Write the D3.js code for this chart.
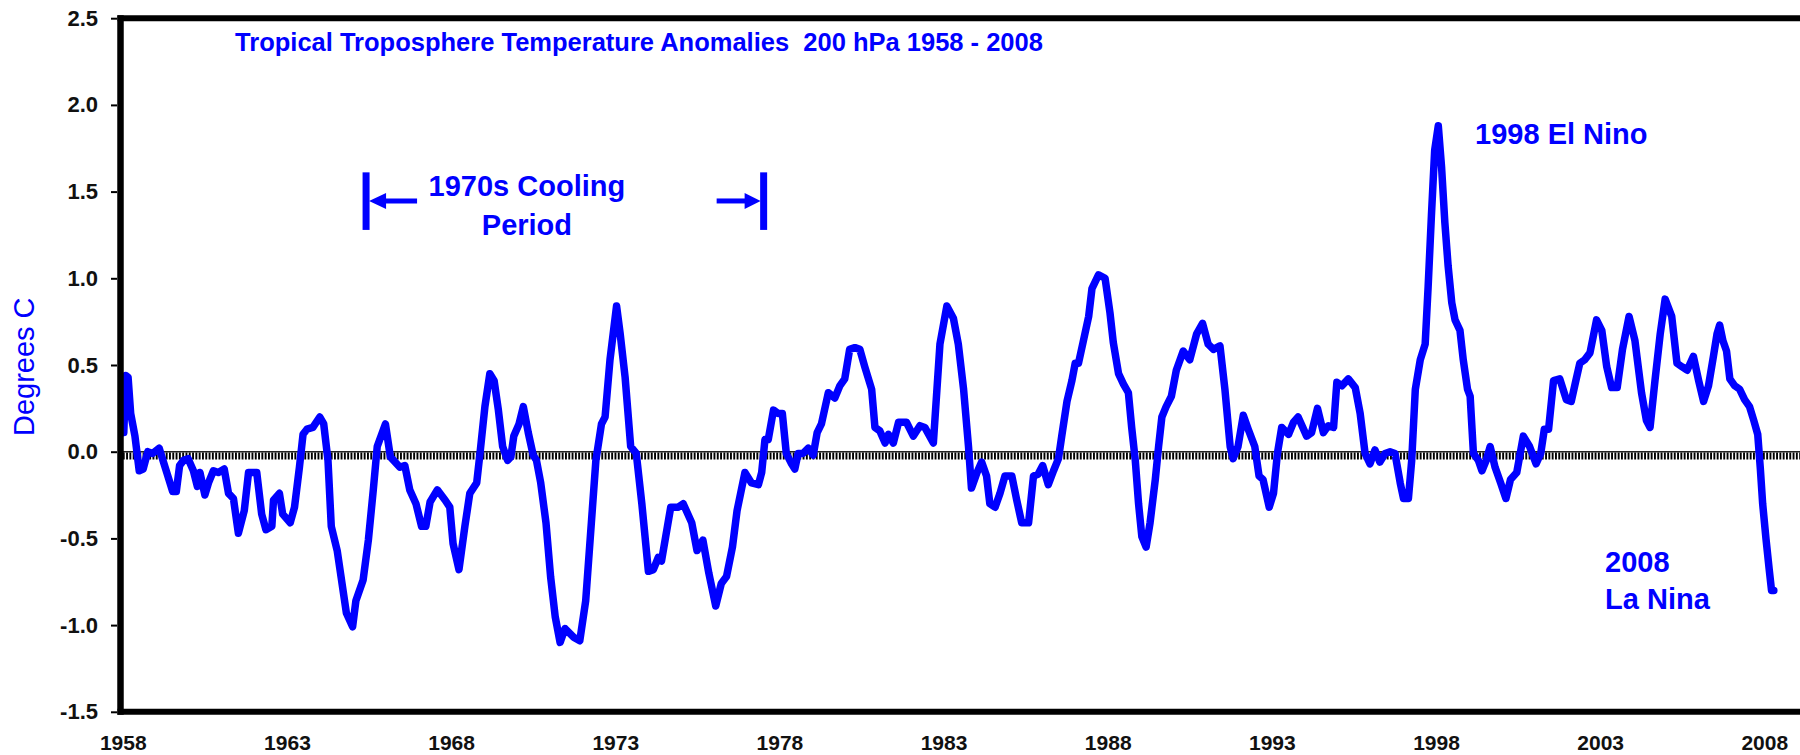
<!DOCTYPE html>
<html>
<head>
<meta charset="utf-8">
<script src="https://cdn.jsdelivr.net/npm/d3@7"></script>
<style>
html,body{margin:0;padding:0;background:#ffffff;}
svg{display:block;}
</style>
</head>
<body>
<svg id="chart" width="1800" height="755"></svg>
<script>
// ---------------- DATA ----------------
const years = [
  1958.00,1958.03,1958.09,1958.16,1958.24,1958.37,1958.50,1958.62,1958.76,1958.91,1959.11,1959.24,1959.34,1959.52,1959.63,1959.73,1959.85,
  1959.99,1960.15,1960.27,1960.35,1960.50,1960.61,1960.76,1960.91,1961.09,1961.22,1961.37,1961.52,1961.70,1961.83,
  1962.08,1962.23,1962.36,1962.54,1962.59,1962.77,1962.87,1963.10,1963.23,1963.38,1963.49,1963.61,1963.79,
  1964.00,1964.12,1964.25,1964.35,1964.53,1964.81,1965.00,1965.10,1965.32,1965.48,1965.63,1965.75,
  1966.00,1966.15,1966.44,1966.59,1966.74,1966.93,1967.10,1967.23,1967.36,1967.58,1967.82,
  1967.96,1968.06,1968.24,1968.42,1968.57,1968.78,1968.88,1969.03,1969.18,1969.31,1969.44,1969.57,1969.72,1969.82,
  1969.91,1970.07,1970.20,1970.35,1970.50,1970.60,1970.73,1970.89,1971.03,1971.17,1971.32,1971.47,1971.73,
  1971.92,1972.10,1972.28,1972.41,1972.58,1972.69,1972.84,1973.04,1973.15,1973.30,1973.47,1973.64,1973.81,
  1974.01,1974.16,1974.31,1974.41,1974.59,1974.69,1974.92,1975.07,1975.33,1975.49,1975.67,
  1975.85,1976.06,1976.23,1976.39,1976.57,1976.71,1976.95,1977.15,1977.36,1977.46,1977.56,1977.66,1977.82,
  1977.96,1978.09,1978.21,1978.37,1978.47,1978.57,1978.72,1978.88,1979.03,1979.15,1979.28,1979.49,1979.69,
  1979.84,1979.99,1980.14,1980.30,1980.45,1980.60,1980.81,1980.91,1981.06,1981.22,1981.32,1981.47,1981.63,
  1981.87,1982.08,1982.28,1982.43,1982.69,1982.89,1983.10,1983.30,1983.45,1983.61,1983.76,
  1983.85,1984.02,1984.16,1984.31,1984.41,1984.57,1984.72,1984.87,1985.08,1985.23,1985.38,1985.59,1985.74,
  1985.88,1986.02,1986.19,1986.35,1986.50,1986.60,1986.76,1986.91,1987.01,1987.11,1987.26,1987.42,1987.52,1987.72,
  1987.92,1988.07,1988.17,1988.33,1988.48,1988.63,1988.73,1988.84,1988.94,1989.04,1989.17,1989.29,1989.45,1989.55,1989.65,
  1989.78,1989.94,1990.09,1990.30,1990.50,1990.71,1990.89,1991.06,1991.22,1991.42,1991.57,1991.73,
  1991.82,1991.97,1992.13,1992.28,1992.48,1992.61,1992.73,1992.92,1993.05,1993.17,1993.30,1993.51,1993.66,
  1993.80,1994.06,1994.21,1994.39,1994.57,1994.72,1994.88,1994.98,1995.13,1995.33,1995.54,1995.69,
  1995.84,1995.99,1996.14,1996.29,1996.45,1996.60,1996.75,1996.91,1997.01,1997.16,1997.26,1997.37,1997.52,1997.67,
  1997.76,1997.86,1997.96,1998.07,1998.17,1998.27,1998.37,1998.48,1998.58,1998.73,1998.83,1998.96,1999.04,1999.14,1999.29,1999.40,1999.53,1999.65,
  1999.80,1999.97,2000.13,2000.27,2000.46,2000.66,2000.85,2001.05,2001.19,2001.30,2001.43,2001.58,
  2001.77,2001.97,2002.12,2002.26,2002.38,2002.53,2002.69,2002.89,2003.05,2003.20,2003.35,2003.52,
  2003.68,2003.88,2004.06,2004.26,2004.41,2004.52,2004.67,2004.83,2004.98,2005.18,2005.34,2005.49,2005.65,
  2005.84,2006.00,2006.15,2006.30,2006.45,2006.56,2006.64,2006.74,2006.85,2006.95,2007.10,2007.25,2007.40,2007.55,2007.68,2007.80,2007.88,2007.95,2008.05,2008.15,2008.22,2008.29
];
const anomalies = [
  0.30,0.11,0.44,0.43,0.22,0.09,-0.11,-0.10,0.00,-0.01,0.02,-0.06,-0.12,-0.23,-0.23,-0.08,-0.05,
  -0.04,-0.11,-0.20,-0.12,-0.25,-0.18,-0.11,-0.12,-0.10,-0.24,-0.27,-0.47,-0.34,-0.12,
  -0.12,-0.36,-0.45,-0.43,-0.28,-0.24,-0.36,-0.41,-0.32,-0.09,0.10,0.13,0.14,
  0.20,0.16,-0.05,-0.43,-0.57,-0.93,-1.01,-0.86,-0.74,-0.51,-0.22,0.03,
  0.16,-0.03,-0.09,-0.08,-0.22,-0.30,-0.43,-0.43,-0.29,-0.22,-0.28,
  -0.32,-0.53,-0.68,-0.43,-0.24,-0.18,-0.01,0.26,0.45,0.41,0.24,0.03,-0.05,-0.03,
  0.09,0.16,0.26,0.11,-0.02,-0.05,-0.18,-0.41,-0.72,-0.95,-1.10,-1.02,-1.07,
  -1.09,-0.86,-0.39,-0.05,0.16,0.20,0.53,0.84,0.68,0.43,0.03,-0.01,-0.30,
  -0.69,-0.68,-0.61,-0.63,-0.43,-0.32,-0.32,-0.30,-0.41,-0.57,-0.51,
  -0.70,-0.89,-0.76,-0.72,-0.55,-0.34,-0.12,-0.18,-0.19,-0.12,0.07,0.07,0.24,
  0.22,0.22,-0.01,-0.07,-0.10,-0.01,-0.01,0.02,-0.02,0.11,0.16,0.34,0.31,
  0.38,0.42,0.59,0.60,0.59,0.49,0.36,0.14,0.12,0.05,0.10,0.05,0.17,
  0.17,0.09,0.15,0.14,0.05,0.62,0.84,0.77,0.62,0.36,0.03,
  -0.21,-0.12,-0.06,-0.14,-0.30,-0.32,-0.24,-0.14,-0.14,-0.28,-0.41,-0.41,-0.14,
  -0.13,-0.08,-0.19,-0.11,-0.04,0.09,0.29,0.41,0.51,0.51,0.64,0.78,0.94,1.02,
  1.00,0.80,0.63,0.45,0.39,0.34,0.14,-0.05,-0.30,-0.49,-0.55,-0.41,-0.16,0.03,0.20,
  0.26,0.32,0.47,0.58,0.53,0.68,0.74,0.62,0.59,0.61,0.36,0.03,
  -0.04,0.03,0.21,0.13,0.03,-0.14,-0.16,-0.32,-0.24,-0.01,0.14,0.10,0.17,
  0.20,0.09,0.11,0.25,0.11,0.15,0.14,0.40,0.38,0.42,0.37,0.22,
  -0.01,-0.07,0.01,-0.06,-0.01,0.00,-0.01,-0.18,-0.27,-0.27,-0.05,0.36,0.53,0.62,
  0.95,1.36,1.74,1.88,1.64,1.32,1.07,0.86,0.76,0.70,0.53,0.36,0.32,-0.01,-0.05,-0.11,-0.05,0.03,
  -0.09,-0.18,-0.27,-0.16,-0.12,0.09,0.03,-0.07,-0.01,0.13,0.13,0.41,
  0.42,0.30,0.29,0.41,0.51,0.53,0.57,0.76,0.70,0.49,0.37,0.37,
  0.59,0.78,0.64,0.34,0.18,0.14,0.41,0.68,0.88,0.78,0.51,0.49,0.47,
  0.55,0.41,0.29,0.38,0.55,0.68,0.73,0.64,0.58,0.42,0.38,0.36,0.30,0.26,0.18,0.10,-0.10,-0.30,-0.50,-0.68,-0.80,-0.80
];
const yTickValues = [-1.5, -1.0, -0.5, 0.0, 0.5, 1.0, 1.5, 2.0, 2.5];
const xTickLabels = [1958, 1963, 1968, 1973, 1978, 1983, 1988, 1993, 1998, 2003, 2008];
const titleText = "Tropical Troposphere Temperature Anomalies  200 hPa 1958 - 2008";
const yAxisTitle = "Degrees C";
const coolingLines = ["1970s Cooling", "Period"];
const elNinoText = "1998 El Nino";
const laNinaLines = ["2008", "La Nina"];

// ---------------- DRAWING ----------------
const W = 1800, H = 755;
const BLUE = "#0000ff";
const FONT = "'Liberation Sans', Arial, Helvetica, sans-serif";

const svg = d3.select("#chart");
svg.append("rect").attr("width", W).attr("height", H).attr("fill", "#fff");

const x = d3.scaleLinear().domain([1958, 2008]).range([122.8, 1764.3]);
const y = d3.scaleLinear().domain([-1.5, 2.5]).range([711.8, 18.2]);

// zero reference line (thin line + dense vertical hatch)
svg.append("line")
  .attr("x1", x(1958)).attr("x2", W)
  .attr("y1", y(0)).attr("y2", y(0))
  .attr("stroke", "#222").attr("stroke-width", 1.6);
svg.append("line")
  .attr("x1", x(1958)).attr("x2", W)
  .attr("y1", y(0) + 4.3).attr("y2", y(0) + 4.3)
  .attr("stroke", "#000").attr("stroke-width", 6.8)
  .attr("stroke-dasharray", "1.9,1.4");

// data line
const pts = d3.zip(years, anomalies);
const line = d3.line().x(d => x(d[0])).y(d => y(d[1]));
svg.append("path")
  .datum(pts)
  .attr("d", line)
  .attr("fill", "none")
  .attr("stroke", BLUE)
  .attr("stroke-width", 7.5)
  .attr("stroke-linejoin", "round")
  .attr("stroke-linecap", "round");

// frame (top, left, bottom; no right edge)
const frameLeft = 120.5;
svg.append("line").attr("x1", frameLeft - 3).attr("x2", W)
  .attr("y1", y(2.5)).attr("y2", y(2.5))
  .attr("stroke", "#000").attr("stroke-width", 6);
svg.append("line").attr("x1", frameLeft - 3).attr("x2", W)
  .attr("y1", y(-1.5)).attr("y2", y(-1.5))
  .attr("stroke", "#000").attr("stroke-width", 6);
svg.append("line").attr("x1", frameLeft).attr("x2", frameLeft)
  .attr("y1", y(2.5) - 3).attr("y2", y(-1.5) + 3)
  .attr("stroke", "#000").attr("stroke-width", 6.5);

// y axis
const yAxis = svg.append("g")
  .attr("transform", `translate(${frameLeft - 3.5},0)`)
  .call(d3.axisLeft(y).tickValues(yTickValues).tickSize(6).tickPadding(13)
        .tickFormat(d => d.toFixed(1)));
yAxis.select(".domain").remove();
yAxis.selectAll(".tick line").attr("stroke", "#000").attr("stroke-width", 2);
yAxis.selectAll(".tick text")
  .attr("font-family", FONT).attr("font-size", 22).attr("font-weight", "bold")
  .attr("fill", "#111");

// x axis
const xAxis = svg.append("g")
  .attr("transform", `translate(0,${y(-1.5)})`)
  .call(d3.axisBottom(x).tickValues(xTickLabels).tickSize(0).tickPadding(23)
        .tickFormat(d => String(d)));
xAxis.select(".domain").remove();
xAxis.selectAll(".tick text")
  .attr("font-family", FONT).attr("font-size", 21).attr("font-weight", "bold")
  .attr("fill", "#111");

// y axis title
svg.append("text")
  .attr("transform", `translate(34,${y(0.49)}) rotate(-90)`)
  .attr("text-anchor", "middle")
  .attr("font-family", FONT).attr("font-size", 29)
  .attr("fill", BLUE)
  .text(yAxisTitle);

// chart title
svg.append("text")
  .attr("x", x(1961.42)).attr("y", y(2.311))
  .attr("font-family", FONT).attr("font-size", 25.5).attr("font-weight", "bold")
  .attr("fill", BLUE)
  .style("white-space", "pre")
  .text(titleText);

// cooling period annotation
const annFont = 29;
coolingLines.forEach((t, i) => {
  svg.append("text")
    .attr("x", x(1970.31)).attr("y", y(i === 0 ? 1.475 : 1.25))
    .attr("text-anchor", "middle")
    .attr("font-family", FONT).attr("font-size", annFont).attr("font-weight", "bold")
    .attr("fill", BLUE)
    .text(t);
});
const barTop = y(1.611), barBot = y(1.279), arrowY = y(1.446);
const leftBarX = x(1965.41), rightBarX = x(1977.52);
[leftBarX, rightBarX].forEach(bx => {
  svg.append("line").attr("x1", bx).attr("x2", bx)
    .attr("y1", barTop).attr("y2", barBot)
    .attr("stroke", BLUE).attr("stroke-width", 7);
});
// left arrow (pointing left to the bar)
svg.append("line").attr("x1", leftBarX + 18).attr("x2", leftBarX + 51)
  .attr("y1", arrowY).attr("y2", arrowY)
  .attr("stroke", BLUE).attr("stroke-width", 5);
svg.append("path")
  .attr("d", `M${leftBarX + 3},${arrowY} L${leftBarX + 20},${arrowY - 8} L${leftBarX + 20},${arrowY + 8} Z`)
  .attr("fill", BLUE);
// right arrow (pointing right to the bar)
svg.append("line").attr("x1", rightBarX - 47).attr("x2", rightBarX - 16)
  .attr("y1", arrowY).attr("y2", arrowY)
  .attr("stroke", BLUE).attr("stroke-width", 5);
svg.append("path")
  .attr("d", `M${rightBarX - 3},${arrowY} L${rightBarX - 19},${arrowY - 8} L${rightBarX - 19},${arrowY + 8} Z`)
  .attr("fill", BLUE);

// El Nino label
svg.append("text")
  .attr("x", x(1999.19)).attr("y", y(1.775))
  .attr("font-family", FONT).attr("font-size", annFont).attr("font-weight", "bold")
  .attr("fill", BLUE)
  .text(elNinoText);

// La Nina label
laNinaLines.forEach((t, i) => {
  svg.append("text")
    .attr("x", x(2003.15)).attr("y", y(i === 0 ? -0.694 : -0.907))
    .attr("font-family", FONT).attr("font-size", annFont).attr("font-weight", "bold")
    .attr("fill", BLUE)
    .text(t);
});
</script>
</body>
</html>
